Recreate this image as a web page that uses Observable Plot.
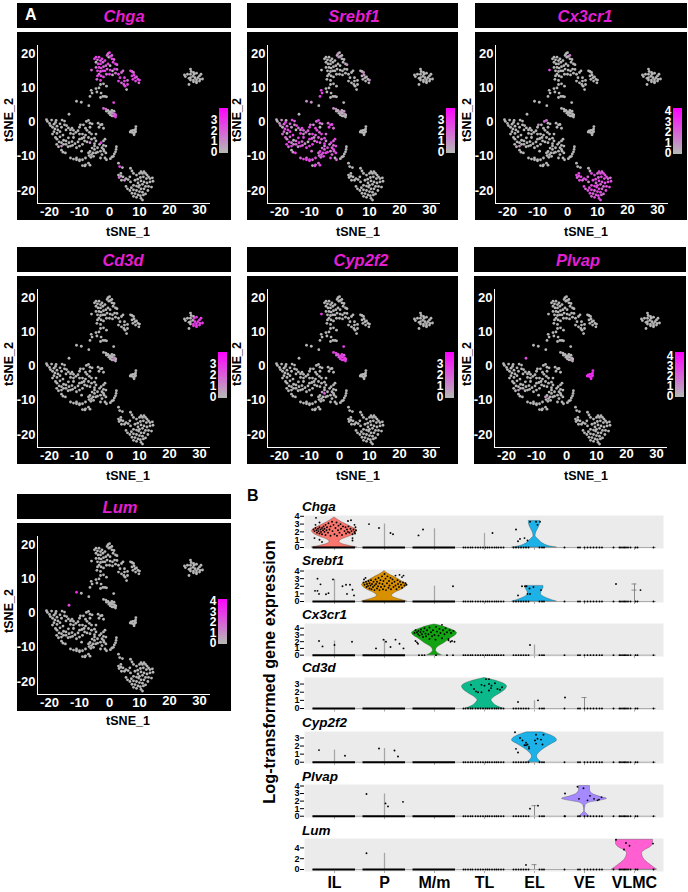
<!DOCTYPE html>
<html><head><meta charset="utf-8">
<script src="https://cdn.jsdelivr.net/npm/d3@7"></script>
<script src="https://cdn.jsdelivr.net/npm/@observablehq/plot@0.6"></script>
<style>
html,body{margin:0;padding:0;background:#fff}
#page{position:relative;width:688px;height:892px;overflow:hidden;font-family:"Liberation Sans",Arial,sans-serif}
#page>*{position:absolute}
.bar{background:#000}
.t{font-weight:bold;white-space:nowrap;line-height:1;color:#000}
svg{overflow:visible}
</style></head><body><div id="page"></div>
<script>
// ---------- tSNE cells ----------
const cellsIL=[[-5,18.5],[-4.5,19],[-4,18.2],[-3.5,19],[-4.5,17.5],[-3.8,17],[-3,18],[-3,17],[-2.5,18.5],[-2.2,17.5],[-1.5,18],[-.8,19.5],[-.5,20],[0,20.3],[-.2,19],[.3,19.2],[.8,19.5],[.8,18.5],[1.2,17.5],[1.5,18.3],[2,17],[2.5,16.8],[-4.5,16],[-3.5,16],[-2.8,15.8],[-2,16.2],[-1.2,16.5],[-.5,17],[.2,16.5],[-4,15],[-3,14.8],[-2.2,15],[-1.5,15],[-.8,15.5],[.2,15.2],[1,15],[1.7,15.5],[2.5,15.4],[-6,15.2],[-4,13.5],[-3.5,14],[-2.8,13.5],[-4.2,12.5],[-3,12.2],[-2,13.2],[-1,14],[0,14],[1,13.8],[2,14.3],[3,14],[3.5,13],[4,14.5],[4.5,15],[5,12],[3,12],[4,11.5],[4.8,11],[5.2,10.5],[5.7,9.5],[6,11],[6,12.2],[5,13],[7,15],[7.5,14.8],[8,14.5],[7.5,13.5],[8.2,13.8],[8.5,13],[9,13.2],[9.5,12.5],[10,12.3],[9.8,11.5],[8.7,12],[7.8,12.5],[-3,11],[-2,11.2],[-1,10.5],[-3.5,10],[-4.5,9.8],[-4.2,8.8],[-2.8,8.5],[-2.2,7.5],[-1.5,7.5],[-3,7.2],[-1,7.4]];
const cellsP=[[-21,.7],[-20.7,.2],[-20,-.4],[-19.7,-1],[-19,-1.5],[-18.5,-.6],[-18,-.1],[-19.3,.6],[-17.8,.5],[-17.5,-1.2],[-18.2,-2],[-17.2,-2.3],[-18.5,-2.8],[-17.5,-3.3],[-19,-3.5],[-16.5,-2.8],[-16,-1.5],[-16.5,-.5],[-15.8,.6],[-15,.3],[-15,-.8],[-14.3,-1],[-13.7,-1.7],[-13,-2.3],[-14.5,-2.3],[-12.5,-1.8],[-12,-2.4],[-15.5,-3.8],[-16.5,-4.3],[-17.5,-5],[-18,-4.5],[-16.8,-5.8],[-16,-6],[-15.3,-5.3],[-14.5,-5.5],[-13.7,-4.6],[-13,-3.3],[-12,-3.5],[-11.2,-3],[-12,-4.5],[-12.5,-5.7],[-13.5,-6],[-14.5,-6.5],[-15.3,-6.5],[-16,-7],[-17,-7.2],[-17.6,-6.5],[-13.8,-7.2],[-13,-7],[-12.3,-6.8],[-11.5,-6.3],[-10.5,-5.8],[-10,-5],[-9.2,-4.8],[-8.5,-4.5],[-8,-3.8],[-9,-3.5],[-10,-3.5],[-10.5,-2.5],[-10,-1.5],[-9.7,-.8],[-8.7,-.8],[-8,-1.8],[-7.5,-2.4],[-6.5,-1.5],[-6.5,-.3],[-7,.5],[-7.7,.2],[-5.8,-.5],[-6.7,-3],[-6,-3.5],[-7,-4.5],[-6,-5],[-5,-4.7],[-4.5,-5.5],[-5,-6.3],[-6.5,-6],[-7.5,-5.8],[-8.3,-5.5],[-9,-6.5],[-4.5,-3.5],[-3.5,-1.5],[-3,-.8],[-3.8,-.3],[-2.5,-.7],[-2,-1.8],[-3.3,-6.5],[-2.8,-6],[-2,-5.5],[-1.5,-5],[-2,-6.8],[-1.2,-7],[-2.5,-7.5],[-3,-8.5],[-1.8,-8.5],[-1.2,-9],[-2.5,-9.5],[-2,-8],[-5,-7],[-4,-7.5],[-5.8,-7.6],[-6.5,-8.6],[-7,-9],[-6,-9.5],[-5.5,-9],[-6.2,-10.3],[-5.3,-10],[-4.6,-9],[-6.8,-9.8],[-4,-8.8],[-5,-8],[-10,-7],[-9.3,-8.5],[-11,-7.5],[-13,-10.5],[-12,-10.8],[-11,-10.5],[-11,-11],[-10,-11],[-9,-11],[-8,-10.5],[-10,-11.3],[-7,-12],[-6.5,-12.6],[-8,-12.5],[-9,-12.7],[-8.2,-12.8],[-14.7,-9],[-15.5,-8.8],[-3,-10.5],[-1,-11],[-1.5,-10.5],[-16,-8.2]];
const cellsMm=[[3.4,-13],[4.3,-13.3],[3,-15.5],[3.2,-16.2],[3.8,-15.8],[4.5,-16],[4,-17],[5,-17],[5.5,-16.5],[6.2,-16.8],[6.8,-16],[7,-17.5],[7,-13.5],[7.5,-14.3],[8,-15],[9,-15.5],[10,-15],[10.5,-14.5],[11,-15],[11.5,-14.5],[12,-15],[12.5,-15.5],[13,-16],[13.5,-16.5],[12.3,-16.5],[11.3,-16],[10.3,-16.2],[9.4,-16.7],[8.5,-17],[9.5,-17.8],[10.5,-17.2],[11.5,-17.5],[12.5,-17.8],[13.5,-17.5],[14.3,-16.3],[14.5,-17.3],[11,-18.2],[10,-18.5],[9,-18.7],[8,-18.5],[12,-18.8],[13,-18.8],[14,-19],[10.5,-19.5],[11.5,-19.5],[12.8,-20],[5.5,-18.8],[6,-19.5],[6.8,-20],[7.3,-19.2],[8,-19.8],[9,-20],[10,-20.3],[11,-20.5],[7.5,-20.8],[8.5,-20.9],[9.5,-21.3],[10.3,-21.5],[11.3,-21.3],[9,-22],[10.5,-22.3],[11,-22.8],[8,-21.7],[12,-21],[3.8,-15],[9.7,-19]];
const cellsTL=[[27,15.5],[27.2,14.8],[25,13.8],[25.3,13.3],[26,14],[27,14],[27,13],[27.8,13.4],[26.5,12.8],[27,12.3],[26.5,11],[28,14.5],[29,14.3],[30,13.5],[30.5,14],[28.5,13],[29.5,13],[28,12.3],[29,12.4],[30,12],[28,11.8],[29,11.5],[28.2,14],[30.2,12.5],[31,12.6],[29,11.8]];
const cellsEL=[[-2,4],[-1.2,3.8],[-.5,3.4],[.1,3],[.5,2.8],[1,2.6],[1.7,2.4],[2.1,2.1],[1.4,1.8],[2,1.5],[.9,1.8],[.3,2.1],[-.2,2.6],[-1,3.2],[1.5,3.2],[.8,3.4]];
const cellsVE=[[8.8,-1.3],[8.7,-2],[8.3,-2.4],[7.8,-2.4],[7.2,-2.6],[7.5,-3],[8,-3.2],[8.5,-3],[6.9,-2.9],[8.2,-3.7],[8.7,-2.7]];
const cellsOther=[[-11,6.1],[-9.4,5.8],[-6.9,4.8],[-13.5,2.3],[1.4,5.7],[-6.1,9.3],[-6.5,7.5],[-5.8,8.5],[2.3,-7.2],[2.2,-8],[2,-8.7],[1.6,-9.3],[1.3,-10],[.8,-10.2],[.3,-10.7],[3,-12]];
const cellGroups={IL:cellsIL,P:cellsP,Mm:cellsMm,TL:cellsTL,EL:cellsEL,VE:cellsVE,Other:cellsOther};

// ---------- expression level per cell (strings/objects indexed like the cell arrays, missing = 0) ----------
const exprChga={IL:"33230323323223032332322332230323323032232323323023322332230323322333233233",EL:"2200012323",Other:{4:3},P:{87:3,76:1,44:1},Mm:{0:3,3:2,7:1}};
const exprSrebf1={IL:{14:1,12:1,21:1,64:1,66:1,70:1},EL:{0:1,1:1,3:1,6:1,14:1},Other:{0:1,1:1,5:3,6:3,7:3,2:0},
 P:"00110231023320231232132103232123102331232321323132103212312321330232123223132313233232132323212323132322323323232323233233232033132"};
const exprCx3cr1={IL:{38:3,16:2},P:{67:2,66:2,60:1,44:1},Mm:"003233323321003323323332332332333323233323332332333233323323332233"};
const exprCd3d={TL:"00000000000033333333333333",EL:{6:1,8:1}};
const exprCyp2f2={EL:"3323333333332223",IL:{38:3},Other:{4:3},P:{110:2,100:1}};
const exprPlvap={VE:"44444444444",Other:{3:3},EL:{8:1},P:{44:1,102:1}};
const exprLum={Other:{0:4,3:3}};

// ---------- panel A layout ----------
const xTicks=[-20,-10,0,10,20,30], yTicks=[-20,-10,0,10,20];
const panels=[
 {gene:"Chga",expr:exprChga,x:17,w:214,ty:3,py:32,tcx:124,ycx:9,xcx:128,xly:232,leg:[219,108,45,-.1,4.05],legTicks:[0,1,2,3],max:4},
 {gene:"Srebf1",expr:exprSrebf1,x:247,w:211,ty:3,py:32,tcx:354,ycx:237,xcx:358,xly:232,leg:[446,108,45,-.1,4.05],legTicks:[0,1,2,3],max:4},
 {gene:"Cx3cr1",expr:exprCx3cr1,x:475,w:212,ty:3,py:32,tcx:585,ycx:467,xcx:586,xly:232,leg:[673,108,46,-.1,4.3],legTicks:[0,1,2,3,4],max:4.3},
 {gene:"Cd3d",expr:exprCd3d,x:17,w:214,ty:247,py:276,tcx:123,ycx:9,xcx:128,xly:476,leg:[218,352,46,-.1,4],legTicks:[0,1,2,3],max:3.8},
 {gene:"Cyp2f2",expr:exprCyp2f2,x:247,w:211,ty:247,py:276,tcx:361,ycx:237,xcx:358,xly:476,leg:[445,352,46,-.1,4],legTicks:[0,1,2,3],max:3.8},
 {gene:"Plvap",expr:exprPlvap,x:474,w:212,ty:247,py:276,tcx:578,ycx:467,xcx:586,xly:476,leg:[675,352,45,-.1,4.4],legTicks:[0,1,2,3,4],max:4.4},
 {gene:"Lum",expr:exprLum,x:17,w:214,ty:494,py:523,tcx:120,ycx:9,xcx:128,xly:721,leg:[218,599,45,-.1,4.2],legTicks:[0,1,2,3,4],max:4.2}
];
const colorRange=["#b6b6b6","#ff00ff"];
const page=document.getElementById("page");
const place=(el,x,y)=>{el.style.left=x+"px";el.style.top=y+"px";page.appendChild(el);return el;};
function label(txt,x,y,{size=12.5,italic=false,color="#000",rotate=false,anchor="center"}={}){
  const d=document.createElement("div");d.className="t";d.textContent=txt;
  d.style.fontSize=size+"px";d.style.color=color;if(italic)d.style.fontStyle="italic";
  const tx=anchor==="center"?"-50%":"0";
  d.style.transform=`translate(${tx},-50%)`+(rotate?" rotate(-90deg)":"");
  return place(d,x,y);
}
const FONT='"Liberation Sans",Arial,sans-serif';
for(const p of panels){
  const bar=document.createElement("div");bar.className="bar";bar.style.width=p.w+"px";bar.style.height="25px";place(bar,p.x,p.ty);
  label(p.gene,p.tcx,p.ty+12.5,{size:16.5,italic:true,color:"#e31fd2"});
  const data=Object.entries(cellGroups).flatMap(([k,arr])=>arr.map((c,i)=>({x:c[0],y:c[1],v:+(p.expr[k]?.[i]??0)}))).sort((a,b)=>a.v-b.v);
  const plot=Plot.plot({width:p.w,height:188,marginLeft:20,marginRight:p.w-193,marginTop:13,marginBottom:17,
    style:{background:"#000",fontFamily:FONT,overflow:"visible"},
    x:{domain:[-24,33.67],axis:null},y:{domain:[-23.8,22.4],axis:null},
    color:{type:"linear",domain:[0,p.max*1.2],range:colorRange},
    marks:[
      Plot.axisX({ticks:xTicks.slice(0,4),tickSize:0,tickPadding:3,color:"#fff",fontSize:13,fontWeight:"bold",tickFormat:d=>String(d),label:null}),
      Plot.axisX({ticks:xTicks.slice(4),tickSize:0,tickPadding:1,color:"#fff",fontSize:13,fontWeight:"bold",tickFormat:d=>String(d),label:null}),
      Plot.axisY({ticks:yTicks,tickSize:0,tickPadding:2,color:"#fff",fontSize:13,fontWeight:"bold",tickFormat:d=>String(d),label:null}),
      Plot.ruleX([-24],{stroke:"#fff",strokeWidth:1}),
      Plot.ruleY([-23.8],{stroke:"#fff",strokeWidth:1}),
      Plot.dot(data,{x:"x",y:"y",r:1.4,fill:"v"})
    ]});
  place(plot,p.x,p.py);
  label("tSNE_2",p.ycx,p.py+88,{rotate:true});
  label("tSNE_1",p.xcx,p.xly);
  // colour bar: each step spans up to the top, later steps cover the earlier ones, so no seams
  const [lx,ly,lh,lo,hi]=p.leg;
  const steps=d3.range(45).map(i=>lo+(hi-lo)*i/45);
  const leg=Plot.plot({width:9,height:lh,margin:0,style:{background:"transparent",fontFamily:FONT,overflow:"visible"},
    x:{domain:[0,1],axis:null},y:{domain:[lo,hi],axis:null},
    color:{type:"linear",domain:[0,hi],range:colorRange},
    marks:[
      Plot.rect(steps,{x1:0,x2:1,y1:d=>d,y2:hi,fill:d=>Math.max(d,0)}),
      Plot.axisY({ticks:p.legTicks,tickSize:0,tickPadding:2,color:"#fff",fontSize:12,fontWeight:"bold",tickFormat:d=>String(d),label:null})
    ]});
  place(leg,lx,ly);
}
label("A",25,15,{size:16,color:"#fff",anchor:"left"});
label("B",247,496,{size:16,anchor:"left"});

// ---------- panel B: violins ----------
const categories=["IL","P","M/m","TL","EL","VE","VLMC"];
const catColors=["#f8766d","#d89000","#12a312","#0cb98a","#1cb2e8","#a58aff","#ff5fd0"];
const violinChgaIL=[[0,.45],[.2,.3],[.5,.13],[.75,.1],[1,.14],[1.3,.26],[1.7,.4],[2.1,.45],[2.5,.38],[3,.22],[3.5,.08],[3.85,0]];
const violinChgaEL=[[0,.44],[.2,.28],[.5,.17],[.9,.1],[1.5,.02],[2,.04],[2.5,.08],[3,.11],[3.4,.115]];
const violinSrebf1P=[[0,.45],[.2,.35],[.5,.2],[.8,.15],[1.1,.2],[1.6,.36],[2.2,.45],[2.6,.36],[3.2,.2],[3.7,.06],[4,0]];
const violinSrebf1EL=[[0,.44],[.3,.3],[.7,.17],[1,.13],[1.4,.15],[1.8,.18],[2.05,.18]];
const violinCx3cr1Mm=[[0,.14],[.3,.07],[.7,.03],[1.2,.07],[1.8,.2],[2.5,.33],[3,.43],[3.3,.45],[3.6,.4],[4,.27],[4.4,.1],[4.55,0]];
const violinCd3dTL=[[0,.37],[.3,.25],[.7,.17],[1,.14],[1.4,.2],[1.9,.33],[2.4,.43],[2.7,.45],[3.1,.37],[3.5,.17],[3.75,0]];
const violinCyp2f2EL=[[0,.14],[.3,.08],[.7,.05],[1.2,.1],[1.7,.2],[2.2,.33],[2.7,.45],[3.1,.4],[3.5,.25],[3.7,.15]];
const violinPlvapVE=[[0,.1],[.3,.05],[.65,.005],[1.4,.02],[1.8,.1],[2.1,.35],[2.3,.45],[2.6,.3],[3,.15],[3.5,.11],[4,.11]];
const violinLumVLMC=[[0,.45],[.8,.33],[1.6,.22],[2.5,.16],[3,.15],[3.5,.2],[4.2,.33],[4.8,.37],[5.5,.37]];

const dotsChgaIL=[[-.37,3.8],[-.3,3.2],[-.38,2.9],[.33,3.5],[.27,3.4],[.4,2.9],[.42,2.6],[-.4,1.2],[-.3,1],[-.25,.7],[.36,1.2],[.36,.9],[-.42,2.3],[-.4,2.1],[-.38,2.5],[-.36,2.2],[-.35,1.9],[-.33,2.4],[-.32,2.1],[-.3,2.6],[-.3,1.8],[-.28,2.3],[-.27,2],[-.25,2.5],[-.25,1.7],[-.23,2.2],[-.22,2.7],[-.2,2],[-.2,2.4],[-.18,2.9],[-.18,1.6],[-.16,2.2],[-.15,2.6],[-.13,1.9],[-.12,3.1],[-.1,2.3],[-.08,2.7],[-.08,1.5],[-.05,3.3],[-.04,2.1],[-.02,2.9],[0,1.7],[.02,2.5],[.04,3.2],[.05,1.5],[.07,2.2],[.08,2.8],[.1,1.9],[.12,3],[.13,2.4],[.15,1.6],[.17,2.7],[.2,2.1],[.22,2.6],[.23,1.8],[.25,2.3],[.27,2],[.28,2.7],[.3,1.9],[.32,2.4],[.34,2.1],[.36,1.7],[.38,2.3],[.4,2],[.43,2.2],[.41,1.8]];
const dotsSrebf1P=[[-.41,2.9],[-.38,3.1],[-.42,2.5],[-.4,2.2],[-.37,2.6],[-.36,1.9],[-.35,2.3],[-.33,2.05],[-.32,2.7],[-.3,1.7],[-.3,2.4],[-.28,2.1],[-.27,2.8],[-.26,1.6],[-.25,2.3],[-.23,1.9],[-.22,2.6],[-.2,2.1],[-.2,1.5],[-.18,2.9],[-.17,2.3],[-.15,1.7],[-.15,2.6],[-.13,2],[-.12,3.1],[-.1,2.4],[-.1,1.5],[-.08,2.8],[-.07,1.9],[-.05,3.3],[-.04,2.3],[-.03,1.6],[-.02,2.7],[0,3.6],[0,2],[.02,3],[.03,1.5],[.05,2.4],[.06,3.3],[.08,1.8],[.09,2.7],[.1,2.1],[.12,3.1],[.13,1.6],[.15,2.4],[.16,2.9],[.18,1.9],[.2,2.6],[.22,3.4],[.22,2.1],[.24,1.6],[.26,2.8],[.27,2.3],[.29,1.9],[.3,3.5],[.31,2.6],[.33,2.2],[.35,1.8],[.35,3.2],[.37,2.5],[.38,3.4],[.4,2.1],[.42,2.4],[.44,2.2]];
const dotsCx3cr1Mm=[[-.4,3.3],[-.38,3.7],[-.35,3.4],[-.33,3.1],[-.32,3.6],[-.3,2.9],[-.28,3.4],[-.27,3.8],[-.25,3.1],[-.23,2.7],[-.22,3.5],[-.2,4],[-.18,3.2],[-.17,2.8],[-.15,3.7],[-.12,3.1],[-.1,2.4],[-.1,4.1],[-.07,3.4],[-.05,2.8],[-.03,3.7],[0,3],[.02,2.3],[.03,4.2],[.05,3.5],[.08,2.9],[.1,3.9],[.12,3.3],[.15,2.5],[.17,3.7],[.2,3.1],[.22,4],[.25,3.4],[.28,2.4],[.3,3.7],[.33,3.3],[.35,2.1],[.38,3.6],[.4,2],[-.38,2.1],[-.35,1.9],[-.33,1.7],[.32,2],[.15,4.5],[.28,2.2]];
const dotsCd3dTL=[[-.27,2.9],[-.21,2.4],[-.17,2.1],[-.13,2],[-.06,2],[-.06,2.9],[0,2.8],[.09,3],[.14,2.8],[.21,3.1],[.26,2.4],[.31,2.3],[.35,2.6],[.09,2.2],[.13,2.5],[.03,3.6],[.09,3.6]];
const dotsCyp2f2EL=[[-.39,3.7],[-.29,3],[-.24,2.7],[-.17,2.4],[-.14,2.2],[-.2,2.1],[-.11,1.9],[.01,2.7],[.03,2.3],[.06,2.9],[.13,2.8],[.16,2.2],[.18,3.4],[.03,3.4],[-.17,2.1],[-.37,1.65],[-.33,1.2],[-.11,1.7]];
const dotsPlvapVE=[[-.39,3],[-.14,3.9],[-.02,3.7],[-.11,2.3],[.11,2.7],[.06,2.1],[.19,2.3],[.26,2.1],[.29,2.2],[.34,2.5],[-.39,0]];
const dotsLumVLMC=[[-.37,5.5],[-.17,4.9],[-.1,4.4],[-.21,3.7],[.37,4.8]];

// rows: outlying dots per category as [category index, dx, value]
const rows=[
 {gene:"Chga",top:515,bottom:548,labelY:507,dom:[-.13,4.1],ticks:[0,1,2,3,4],
  violins:[[0,violinChgaIL,dotsChgaIL],[4,violinChgaEL,[[-.37,2.3],[-.29,1.1],[-.33,.8],[-.2,1.2],[-.14,.9],[-.09,3.3],[.06,2.9],[.11,3.3],[.03,3.3]]]],
  spikes:[[1,3],[2,2.4],[3,1.8]],loose:[[1,-.31,3],[1,-.11,2.5],[1,.12,1.85],[1,.17,1.7],[2,-.32,1.55],[2,-.23,2.3],[3,.16,1.85]]},
 {gene:"Srebf1",top:569,bottom:602,labelY:561,dom:[-.13,4.2],ticks:[0,1,2,3,4],
  violins:[[1,violinSrebf1P,dotsSrebf1P],[4,violinSrebf1EL,[[-.25,2],[-.19,2],[-.16,2],[-.33,.8],[-.14,1],[-.09,1],[.13,1.5],[-.02,1.9],[-.1,1.7]]]],
  spikes:[[0,2.9],[2,2]],caps:[[6,2.3,1.5]],
  loose:[[0,-.34,3],[0,-.28,2.25],[0,-.39,1.4],[0,-.34,1.4],[0,-.31,1],[0,-.17,.95],[0,-.12,1.1],[0,-.03,2.9],[0,.16,2],[0,.23,2.2],[0,.31,2.2],[0,.36,1.55],[0,.25,1],[0,.39,.8],[2,.37,2],[6,-.37,2.3],[6,.12,1.5]]},
 {gene:"Cx3cr1",top:623,bottom:656,labelY:615,dom:[-.2,4.7],ticks:[0,1,2,3,4],
  violins:[[2,violinCx3cr1Mm,dotsCx3cr1Mm]],spikes:[[0,2.1],[1,2.3],[4,1.5]],
  zeroSparseMm:true,
  loose:[[0,-.31,2.1],[0,-.24,1.3],[0,0,1.5],[0,.35,2],[1,-.17,1],[1,-.02,2.3],[1,.03,2],[1,.12,1.2],[1,.22,2.3],[1,.3,1.7],[1,.38,1],[4,-.09,1.5]]},
 {gene:"Cd3d",top:677,bottom:709.5,labelY:668,dom:[-.18,3.8],ticks:[0,1,2,3],
  violins:[[3,violinCd3dTL,dotsCd3dTL]],spikes:[[4,.95]],caps:[[5,1.35,null]],
  loose:[[4,-.33,.8],[4,.07,1],[5,-.39,1.35]]},
 {gene:"Cyp2f2",top:731,bottom:763,labelY:723,dom:[-.16,3.8],ticks:[0,1,2,3],
  violins:[[4,violinCyp2f2EL,dotsCyp2f2EL]],spikes:[[0,1.5],[1,1.7]],
  loose:[[0,-.31,1.5],[0,.21,.8],[1,-.11,1.7],[1,.2,1.45],[1,.27,.7]]},
 {gene:"Plvap",top:784,bottom:817,labelY:777,dom:[-.17,4.2],ticks:[0,1,2,3,4],
  violins:[[5,violinPlvapVE,dotsPlvapVE]],spikes:[[1,2.95]],caps:[[4,1.4,null]],
  loose:[[1,-.36,2.95],[1,.02,1.7],[1,.07,1.3],[1,.37,1.9],[4,-.09,1],[4,.07,1.4]]},
 {gene:"Lum",top:838,bottom:871,labelY:831,dom:[-.37,5.74],ticks:[0,2,4],
  violins:[[6,violinLumVLMC,dotsLumVLMC]],spikes:[[1,3]],caps:[[4,.9,null]],
  loose:[[1,-.36,3],[4,-.17,.85]]}
];
// zero-valued cells along the baseline
const zeroDense=[0,1,2];
const zeroTL=[-.42,-.38,-.33,-.28,-.24,-.18,-.13,-.08,-.03,.02,.06,.1,.15,.2,.24,.28,.33,.38];
const zeroEL=[-.42,-.37,-.32,-.27,-.22,-.17,-.12,.1,.15,.19];
const zeroVE=[-.4,-.13,-.09,0,.06,.12,.18,.24,.3,.35];
const zeroVLMC=[-.42,-.3,-.27,-.23,-.2,-.17,-.13,-.08,.02,.06,.38];
const zeroMmSparse=[-.31,-.25,-.2,.03,.25,.37];

for(const r of rows){
  const last=r.gene==="Lum";
  const h=r.bottom-r.top, extra=last?21:4;
  const violinMarks=r.violins.map(([c,v])=>Plot.areaX(v,{y:d=>d[0],x1:d=>c-d[1],x2:d=>c+d[1],fill:catColors[c],stroke:"#222",strokeOpacity:.55,strokeWidth:.5,curve:"monotone-y"}));
  const inside=r.violins.flatMap(([c,v,ds])=>ds.map(d=>({x:c+d[0],y:d[1]})));
  const loose=r.loose.map(d=>({x:d[0]+d[1],y:d[2]}));
  const zeroDots=[
    ...zeroTL.map(d=>3+d),...zeroEL.map(d=>4+d),...zeroVE.map(d=>5+d),...zeroVLMC.map(d=>6+d),
    ...(r.zeroSparseMm?zeroMmSparse.map(d=>2+d):[])
  ];
  const dense=zeroDense.filter(c=>!(r.zeroSparseMm&&c===2));
  const caps=(r.caps||[]).flatMap(([c,a,b])=>[a,b].filter(v=>v!=null).map(v=>({c,v})));
  const plot=Plot.plot({width:383,height:h+extra,marginLeft:24,marginRight:0,marginTop:0,marginBottom:extra,
    style:{background:"transparent",fontFamily:FONT,overflow:"visible"},
    x:{domain:[-.6,6.58],axis:null},y:{domain:r.dom,axis:null},
    marks:[
      Plot.frame({fill:"#ebebeb",stroke:null}),
      Plot.axisY({ticks:r.ticks,tickSize:4,tickPadding:1,fontSize:9,fontWeight:"bold",tickFormat:d=>String(d),label:null,stroke:"#000",strokeWidth:1}),
      Plot.axisX({ticks:d3.range(7),tickSize:last?2:2,tickPadding:last?3:0,fontSize:16,fontWeight:"bold",stroke:"#888",strokeWidth:.7,
        tickFormat:d=>last?categories[d]:"",label:null}),
      Plot.ruleY([0],{x1:-.44,x2:6.44,stroke:"#999",strokeWidth:.8}),
      Plot.ruleX(r.spikes||[],{x:d=>d[0],y1:0,y2:d=>d[1],stroke:"#a6a6a6",strokeWidth:1.3}),
      Plot.ruleX(r.caps||[],{x:d=>d[0],y1:0,y2:d=>d[1],stroke:"#8c8c8c",strokeWidth:1}),
      Plot.ruleY(caps,{y:"v",x1:d=>d.c-.05,x2:d=>d.c+.05,stroke:"#777",strokeWidth:.8}),
      ...violinMarks,
      Plot.ruleY(dense,{y:0,x1:d=>d-.43,x2:d=>d+.42,stroke:"#000",strokeWidth:2}),
      Plot.dot(zeroDots,{x:d=>d,y:0,r:.95,fill:"#000"}),
      Plot.dot(inside,{x:"x",y:"y",r:.95,fill:"#000"}),
      Plot.dot(loose,{x:"x",y:"y",r:.95,fill:"#000"})
    ]});
  place(plot,280,r.top);
  label(r.gene,302,r.labelY,{size:13.5,italic:true,anchor:"left"});
}
label("Log-transformed gene expression",269,672,{size:16.3,rotate:true});
</script></body></html>
